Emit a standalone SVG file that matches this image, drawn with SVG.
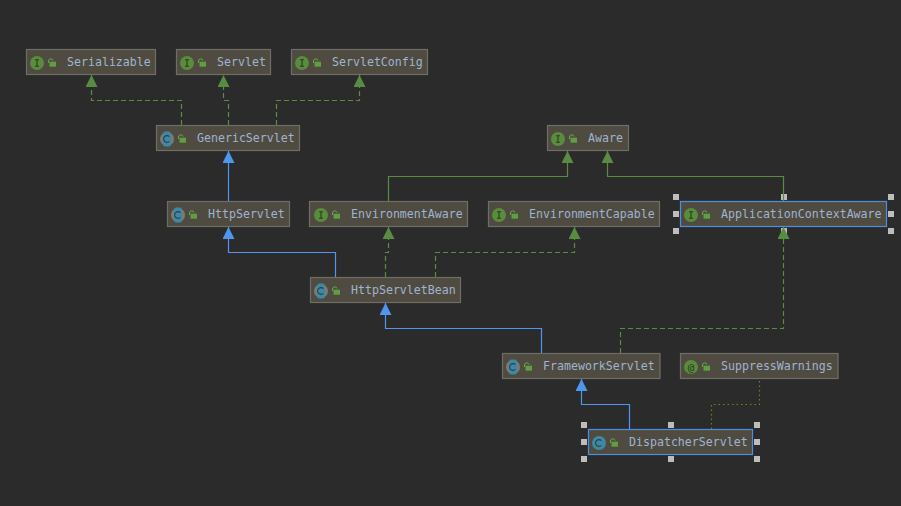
<svg xmlns="http://www.w3.org/2000/svg" width="901" height="506" viewBox="0 0 901 506">
<style>
.n{fill:#4f4b41;stroke:#6e6e69;stroke-width:1.2}
.s{stroke:#4b8fe0;stroke-width:1.2}
.t{font-family:"DejaVu Sans Mono","Liberation Mono",monospace;font-size:11.6px;fill:#9fb4d0}
.e{fill:none;stroke-width:1.2}
.g{stroke:#598c42}
.d{stroke-dasharray:5 3}
.b{stroke:#4f96ef}
.o{stroke:#74801f;stroke-dasharray:1.5 3}
.h{fill:#bdbdbd}
</style>
<defs>
<marker id="ag" markerUnits="userSpaceOnUse" markerWidth="12" markerHeight="12" refX="12" refY="6" orient="auto" viewBox="0 0 12 12"><path d="M0 0L12 6L0 12Z" fill="#598c42"/></marker>
<marker id="ab" markerUnits="userSpaceOnUse" markerWidth="12" markerHeight="12" refX="12" refY="6" orient="auto" viewBox="0 0 12 12"><path d="M0 0L12 6L0 12Z" fill="#4f96ef"/></marker>
<g id="lock"><path d="M0 0V-2a2.300 2.300 0 0 1 4.500 -0.500" fill="none" stroke="#6aa84a" stroke-width="1"/><rect x="1" y="-1.300" width="6.500" height="5" fill="#5f9e42"/></g>
<g id="ci"><circle r="7" fill="#598c3c"/><path d="M-2 -3.200h4M-2 3.200h4M0 -3.200v6.400" stroke="#2c3a22" stroke-width="1.100" fill="none"/></g>
<g id="cc"><circle r="7" fill="#3f87a3"/><path d="M2.400 -2.400a3.400 3.400 0 1 0 0 4.800" stroke="#25424e" stroke-width="1.100" fill="none"/></g>
<g id="ca"><circle r="7" fill="#7b7b75"/><rect x="-4" y="-7.500" width="8" height="15" rx="2.500" fill="#3f87a3"/><path d="M2.400 -2.400a3.400 3.400 0 1 0 0 4.800" stroke="#25424e" stroke-width="1.100" fill="none"/></g>
<g id="cn"><circle r="7" fill="#598c3c"/><text x="0" y="3.600" text-anchor="middle" style="font-family:'DejaVu Sans Mono',monospace;font-size:11px;fill:#2c3a22">@</text></g>
</defs>
<rect width="901" height="506" fill="#2b2b2b"/>
<g id="Serializable"><rect class="n" x="26.500" y="49.500" width="129" height="25"/><use href="#ci" x="37" y="63"/><use href="#lock" x="48.500" y="63"/><text class="t" x="67" y="66">Serializable</text></g>
<g id="Servlet"><rect class="n" x="176.500" y="49.500" width="94" height="25"/><use href="#ci" x="187" y="63"/><use href="#lock" x="198.500" y="63"/><text class="t" x="217" y="66">Servlet</text></g>
<g id="ServletConfig"><rect class="n" x="291.500" y="49.500" width="136" height="25"/><use href="#ci" x="302" y="63"/><use href="#lock" x="313.500" y="63"/><text class="t" x="332" y="66">ServletConfig</text></g>
<g id="GenericServlet"><rect class="n" x="156.500" y="125.500" width="143" height="25"/><use href="#ca" x="167" y="139"/><use href="#lock" x="178.500" y="139"/><text class="t" x="197" y="142">GenericServlet</text></g>
<g id="Aware"><rect class="n" x="547.500" y="125.500" width="81" height="25"/><use href="#ci" x="558" y="139"/><use href="#lock" x="569.500" y="139"/><text class="t" x="588" y="142">Aware</text></g>
<g id="HttpServlet"><rect class="n" x="167.500" y="201.500" width="122" height="25"/><use href="#ca" x="178" y="215"/><use href="#lock" x="189.500" y="215"/><text class="t" x="208" y="218">HttpServlet</text></g>
<g id="EnvironmentAware"><rect class="n" x="309.500" y="201.500" width="158" height="25"/><use href="#ci" x="321" y="215"/><use href="#lock" x="332.500" y="215"/><text class="t" x="351" y="218">EnvironmentAware</text></g>
<g id="EnvironmentCapable"><rect class="n" x="488.500" y="201.500" width="171" height="25"/><use href="#ci" x="499" y="215"/><use href="#lock" x="510.500" y="215"/><text class="t" x="529" y="218">EnvironmentCapable</text></g>
<g id="ApplicationContextAware"><rect class="n s" x="680.500" y="201.500" width="206" height="25"/><use href="#ci" x="691" y="215"/><use href="#lock" x="702.500" y="215"/><text class="t" x="721" y="218">ApplicationContextAware</text>
<rect class="h" x="673" y="194" width="6" height="6"/><rect class="h" x="781" y="194" width="6" height="6"/><rect class="h" x="888" y="194" width="6" height="6"/><rect class="h" x="673" y="211" width="6" height="6"/><rect class="h" x="888" y="211" width="6" height="6"/><rect class="h" x="673" y="228" width="6" height="6"/><rect class="h" x="781" y="228" width="6" height="6"/><rect class="h" x="888" y="228" width="6" height="6"/></g>
<g id="HttpServletBean"><rect class="n" x="310.500" y="277.500" width="150" height="25"/><use href="#ca" x="321" y="291"/><use href="#lock" x="332.500" y="291"/><text class="t" x="351" y="294">HttpServletBean</text></g>
<g id="FrameworkServlet"><rect class="n" x="502.500" y="353.500" width="157.500" height="25"/><use href="#ca" x="513" y="367"/><use href="#lock" x="524.500" y="367"/><text class="t" x="543" y="370">FrameworkServlet</text></g>
<g id="SuppressWarnings"><rect class="n" x="680.500" y="353.500" width="157.500" height="25"/><use href="#cn" x="691" y="367"/><use href="#lock" x="702.500" y="367"/><text class="t" x="721" y="370">SuppressWarnings</text></g>
<g id="DispatcherServlet"><rect class="n s" x="588.500" y="429.500" width="164" height="25"/><use href="#cc" x="599" y="443"/><use href="#lock" x="610.500" y="443"/><text class="t" x="629" y="446">DispatcherServlet</text>
<rect class="h" x="581" y="422" width="6" height="6"/><rect class="h" x="668" y="422" width="6" height="6"/><rect class="h" x="754" y="422" width="6" height="6"/><rect class="h" x="581" y="439" width="6" height="6"/><rect class="h" x="754" y="439" width="6" height="6"/><rect class="h" x="581" y="456" width="6" height="6"/><rect class="h" x="668" y="456" width="6" height="6"/><rect class="h" x="754" y="456" width="6" height="6"/></g>
<g id="connectors">
<path class="e g d" d="M181.500 125V100.500H91.500V75" marker-end="url(#ag)"/>
<path class="e g d" d="M228.500 125V100.500H223.500V75" marker-end="url(#ag)"/>
<path class="e g d" d="M276.500 125V100.500H359.500V75" marker-end="url(#ag)"/>
<path class="e b" d="M228.500 201V151" marker-end="url(#ab)"/>
<path class="e g" d="M388.500 201V176.500H567.500V151" marker-end="url(#ag)"/>
<path class="e g" d="M783.500 201V176.500H607.500V151" marker-end="url(#ag)"/>
<path class="e b" d="M335.500 277V252.500H228.500V227" marker-end="url(#ab)"/>
<path class="e g d" d="M385.500 277V252.500H388.500V227" marker-end="url(#ag)"/>
<path class="e g d" d="M435.500 277V252.500H574.500V227" marker-end="url(#ag)"/>
<path class="e b" d="M541.500 353V328.500H385.500V303" marker-end="url(#ab)"/>
<path class="e g d" d="M620.500 353V328.500H783.500V227" marker-end="url(#ag)"/>
<path class="e b" d="M629.500 429V404.500H581.500V379" marker-end="url(#ab)"/>
<path class="e o" d="M711.500 429V404.500H759.500V381"/>
</g>
</svg>
